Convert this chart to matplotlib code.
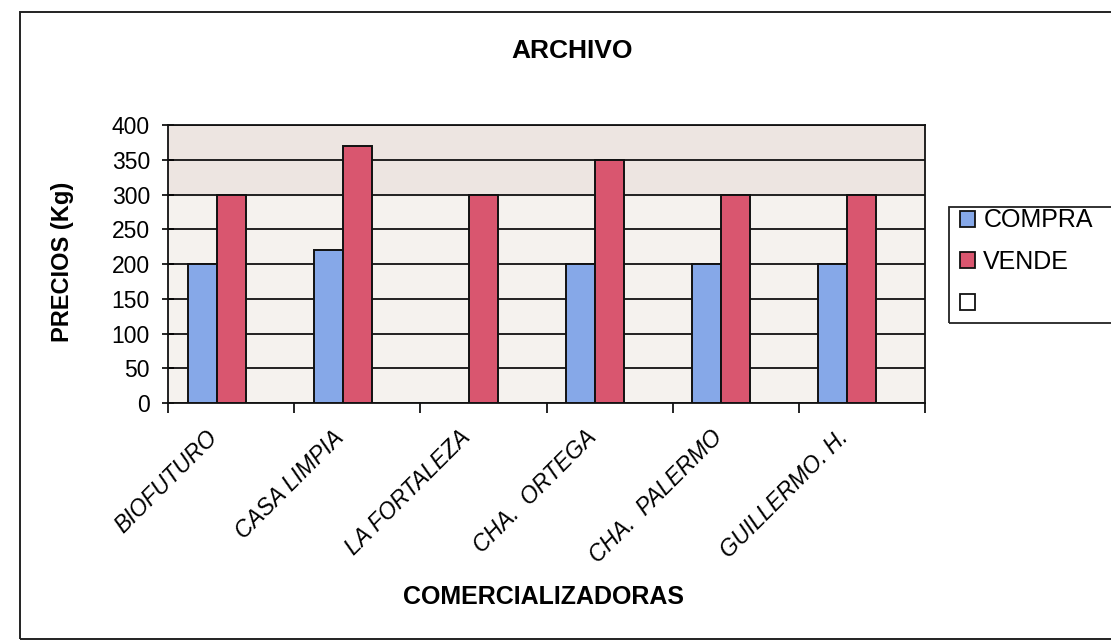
import numpy as np
import matplotlib
matplotlib.use("Agg")
import matplotlib.pyplot as plt
from matplotlib.patches import Patch, Rectangle
from matplotlib.transforms import ScaledTranslation

plt.rcParams['font.family'] = ['Liberation Sans', 'DejaVu Sans']

# data
comercializadoras = ["BIOFUTURO", "CASA LIMPIA", "LA FORTALEZA",
                     "CHA.  ORTEGA", "CHA.  PALERMO", "GUILLERMO. H."]
compra = [200, 220, np.nan, 200, 200, 200]
vende = [300, 370, 300, 350, 300, 300]
series = ["COMPRA", "VENDE", ""]
y_ticks = [0, 50, 100, 150, 200, 250, 300, 350, 400]

W, H = 1111, 641
fig = plt.figure(figsize=(W / 100, H / 100), dpi=100)
fig.patch.set_facecolor("white")

# outer chart frame (runs off the right edge like the scan)
fig.patches.append(Rectangle((20 / W, 1 - 639 / H), 1.2, (639 - 12) / H,
                             transform=fig.transFigure, fill=False,
                             edgecolor="#222222", lw=1.4))

ax = fig.add_axes([168 / W, 1 - 403 / H, (925 - 168) / W, (403 - 125) / H])
ax.set_facecolor("#f5f2ee")
ax.axhspan(300, 400, color="#ede5e1", zorder=0)

x = np.arange(len(comercializadoras))
w = 0.23
ax.bar(x - w, compra, w, color="#86a8e8", edgecolor="#111111", lw=1.4,
       zorder=3)
ax.bar(x, vende, w, color="#d9566f", edgecolor="#111111", lw=1.4,
       zorder=3)

ax.set_xlim(-0.5, len(comercializadoras) - 0.5)
ax.set_ylim(0, 400)
ax.set_yticks(y_ticks)
ax.set_yticklabels([str(v) for v in y_ticks], fontsize=16.5)
ax.yaxis.grid(True, color="#111111", lw=1.3, zorder=1)
ax.set_axisbelow(True)

ax.set_xticks(x)
ax.set_xticklabels(comercializadoras, rotation=45, ha="right", va="top",
                   rotation_mode="anchor", fontsize=16.5, style="italic")
ax.tick_params(axis="x", length=0, pad=0)
shift = ScaledTranslation(-25 / 100, -23 / 100, fig.dpi_scale_trans)
for lab in ax.get_xticklabels():
    lab.set_transform(lab.get_transform() + shift)
ax.set_xticks(np.arange(-0.5, len(comercializadoras)), minor=True)
ax.tick_params(axis="x", which="minor", length=7, width=1.2,
               direction="out")
ax.tick_params(axis="y", length=8, width=1.2, direction="inout", pad=9)

for s in ax.spines.values():
    s.set_color("#111111")
    s.set_linewidth(1.3)

fig.text(572 / W, 1 - 51 / H, "ARCHIVO", ha="center", va="center",
         fontsize=19, fontweight="bold")
fig.text(62 / W, 1 - 262 / H, "PRECIOS (Kg)", ha="center", va="center",
         rotation=90, fontsize=17, fontweight="bold")
fig.text(543 / W, 1 - 597 / H, "COMERCIALIZADORAS", ha="center",
         va="center", fontsize=18, fontweight="bold")

# legend box runs off the right edge of the scan
fig.patches.append(Rectangle((949 / W, 1 - 323 / H), 0.3, (323 - 207) / H,
                             transform=fig.transFigure, fill=False,
                             edgecolor="#222222", lw=1.3))
handles = [Patch(facecolor="#86a8e8", edgecolor="#111111", lw=1.3),
           Patch(facecolor="#d9566f", edgecolor="#111111", lw=1.3),
           Patch(facecolor="white", edgecolor="#111111", lw=1.3)]
leg = fig.legend(handles, series,
                 loc="upper left", bbox_to_anchor=(952 / W, 1 - 201 / H),
                 fontsize=18, frameon=False,
                 handlelength=0.6, handleheight=0.6, handletextpad=0.35,
                 borderpad=0.3, labelspacing=0.7, borderaxespad=0)

fig.savefig("out.png", dpi=100, facecolor="white")
